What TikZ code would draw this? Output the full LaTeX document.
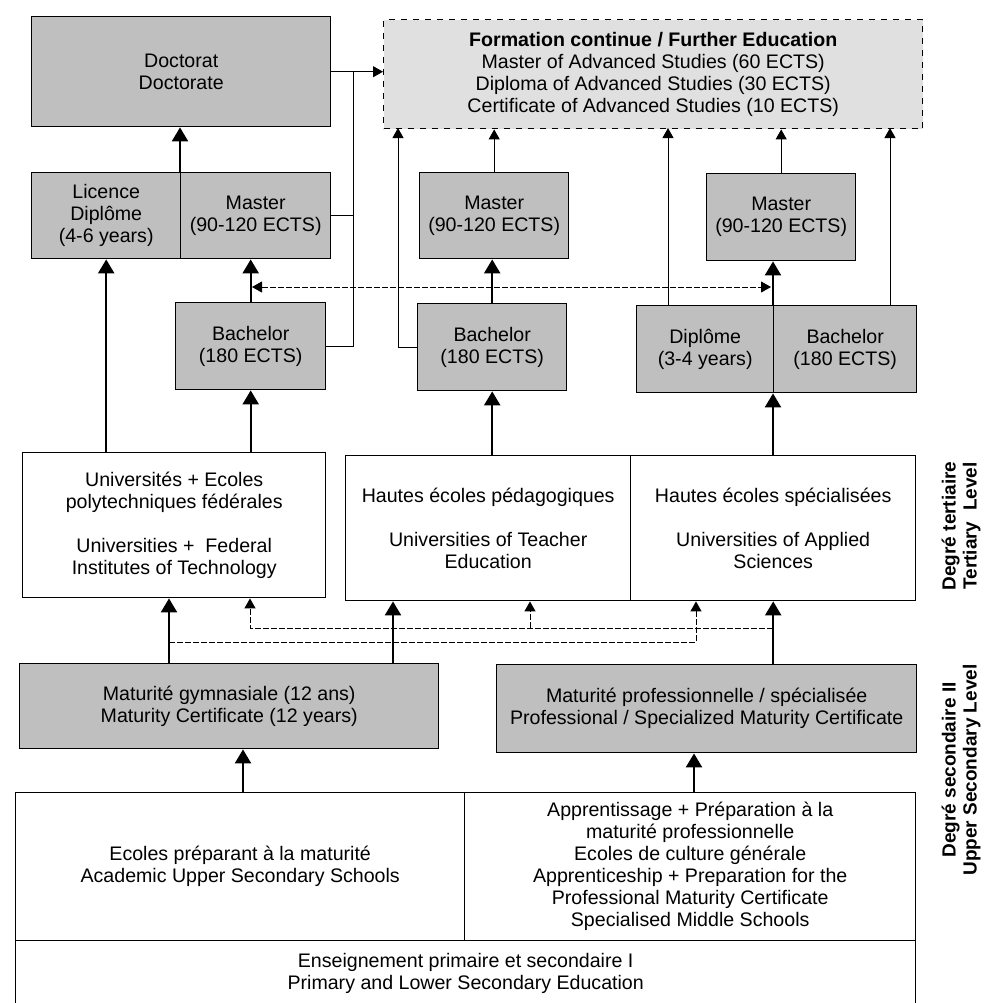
\documentclass[tikz,border=0pt]{standalone}
\usepackage{fontspec}
\setmainfont{Liberation Sans}
\usetikzlibrary{arrows.meta}
\begin{document}
\begin{tikzpicture}[x=0.5pt,y=-0.5pt,
  font=\fontsize{9.8pt}{11pt}\selectfont,
  box/.style={draw, line width=0.7pt, inner sep=0pt, align=center, anchor=north west},
  shaded/.style={box, fill=black!25},
  plain/.style={box, fill=white},
  thickarr/.style={line width=1.2pt, -{Triangle[width=8pt,length=7pt]}},
  thinarr/.style={line width=0.5pt, -{Triangle[width=5.5pt,length=5pt]}},
  thinline/.style={line width=0.5pt},
  dasharr/.style={line width=0.5pt, dash pattern=on 3pt off 1pt, -{Triangle[width=5.5pt,length=5pt]}},
  levellabel/.style={rotate=90, align=center, font=\bfseries\fontsize{9.5pt}{10.5pt}\selectfont}
]
\useasboundingbox (0,0) rectangle (986,1003);
\fill[white] (0,0) rectangle (986,1003);

% top row
\node[shaded, minimum width=149.5pt, minimum height=55pt] (doc) at (31,16) {Doctorat\\Doctorate};
\node[box, dashed, fill=black!12, minimum width=269.5pt, minimum height=54.5pt] (fe) at (383,19)
  {\textbf{Formation continue / Further Education}\\Master of Advanced Studies (60 ECTS)\\Diploma of Advanced Studies (30 ECTS)\\Certificate of Advanced Studies (10 ECTS)};

% master row
\node[shaded, minimum width=74.5pt, minimum height=43pt] (lic) at (31,172) {Licence\\Diplôme\\(4-6 years)};
\node[shaded, minimum width=75pt, minimum height=43pt] (m1) at (180,172) {Master\\(90-120 ECTS)};
\node[shaded, minimum width=74.5pt, minimum height=43pt] (m2) at (419,172) {Master\\(90-120 ECTS)};
\node[shaded, minimum width=74.5pt, minimum height=43.5pt] (m3) at (706,173) {Master\\(90-120 ECTS)};

% bachelor row
\node[shaded, minimum width=75pt, minimum height=43.5pt] (b1) at (175,302) {Bachelor\\(180 ECTS)};
\node[shaded, minimum width=74.5pt, minimum height=43.5pt] (b2) at (417,303) {Bachelor\\(180 ECTS)};
\node[shaded, minimum width=68.5pt, minimum height=43.5pt] (dip) at (636,305) {Diplôme\\(3-4 years)};
\node[shaded, minimum width=71.5pt, minimum height=43.5pt] (b3) at (773,305) {Bachelor\\(180 ECTS)};

% tertiary institutions
\node[plain, minimum width=151.5pt, minimum height=72.5pt] (univ) at (22,452)
  {Universités + Ecoles\\polytechniques fédérales\\[11pt]Universities +\ \ Federal\\Institutes of Technology};
\node[plain, minimum width=142.5pt, minimum height=72.5pt] (hep) at (345,455)
  {Hautes écoles pédagogiques\\[11pt]Universities of Teacher\\Education};
\node[plain, minimum width=142.5pt, minimum height=72.5pt] (hes) at (630,455)
  {Hautes écoles spécialisées\\[11pt]Universities of Applied\\Sciences};

% maturity row
\node[shaded, minimum width=209.5pt, minimum height=42.5pt] (gym) at (19,663)
  {Maturité gymnasiale (12 ans)\\Maturity Certificate (12 years)};
\node[shaded, minimum width=210pt, minimum height=44pt] (mp) at (496,664)
  {Maturité professionnelle / spécialisée\\Professional / Specialized Maturity Certificate};

% secondary schools
\node[plain, minimum width=224.5pt, minimum height=74pt] (sec1) at (15,792)
  {Ecoles préparant à la maturité\\Academic Upper Secondary Schools};
\node[plain, minimum width=225.5pt, minimum height=74pt] (sec2) at (464,792)
  {Apprentissage + Préparation à la\\maturité professionnelle\\Ecoles de culture générale\\Apprenticeship + Preparation for the\\Professional Maturity Certificate\\Specialised Middle Schools};
\node[plain, minimum width=450pt, minimum height=33pt] (prim) at (15,940)
  {Enseignement primaire et secondaire I\\Primary and Lower Secondary Education};

% level labels
\node[levellabel] (lt) at (961,526) {Degré tertiaire\\Tertiary\ \ Level};
\node[levellabel] (ls) at (961,770) {Degré secondaire II\\Upper Secondary Level};

% helper coordinates
\coordinate (jx) at (353,71);
\coordinate (fe1) at (398,128);
\coordinate (fe3) at (668,128);
\coordinate (fe5) at (890,128);
\coordinate (ga) at (169,0);
\coordinate (gb) at (393,0);
\coordinate (sa) at (243,0);
\coordinate (sb) at (694,0);
\coordinate (da) at (772.5,628);
\coordinate (ua) at (250,0);
\coordinate (hb) at (530,628);
\coordinate (db) at (169,642);
\coordinate (hs) at (696,0);
\coordinate (dl) at (252,287);
\coordinate (dr) at (771,287);

% thin connectors to further education
\draw[thinarr] (doc.east) -- (doc.east -| fe.west);
\draw[thinline] (m1.east) -| (jx);
\draw[thinline] (b1.east) -| (jx);
\draw[thinarr] (b2.west) -| (fe1);
\draw[thinarr] (m2.north) -- (m2.north |- fe.south);
\draw[thinarr] (fe3 |- dip.north) -- (fe3);
\draw[thinarr] (m3.north) -- (m3.north |- fe.south);
\draw[thinarr] (fe5 |- b3.north) -- (fe5);

% thick connectors
\draw[thickarr] (lic.south |- univ.north) -- (lic.south);
\draw[thickarr] (b1.south |- univ.north) -- (b1.south);
\draw[thickarr] (b1.north) -- (b1.north |- m1.south);
\draw[thickarr] (m1.north west) -- (m1.north west |- doc.south);
\draw[thickarr] (b2.south |- hep.north) -- (b2.south);
\draw[thickarr] (b2.north) -- (b2.north |- m2.south);
\draw[thickarr] (b3.south west |- hes.north) -- (b3.south west);
\draw[thickarr] (b3.north west) -- (b3.north west |- m3.south);
\draw[thickarr] (ga |- gym.north) -- (ga |- univ.south);
\draw[thickarr] (gb |- gym.north) -- (gb |- hep.south);
\draw[thickarr] (hes.south |- mp.north) -- (hes.south);
\draw[thickarr] (sa |- sec1.north) -- (sa |- gym.south);
\draw[thickarr] (sb |- sec2.north) -- (sb |- mp.south);

% dashed connectors
\draw[dasharr] (da) -| (ua |- univ.south);
\draw[dasharr] (hb) -- (hb |- hep.south);
\draw[dasharr] (db) -| (hs |- hes.south);
\draw[dasharr, {Triangle[width=5.5pt,length=5pt]}-{Triangle[width=5.5pt,length=5pt]}] (dl) -- (dr);
\end{tikzpicture}
\end{document}
